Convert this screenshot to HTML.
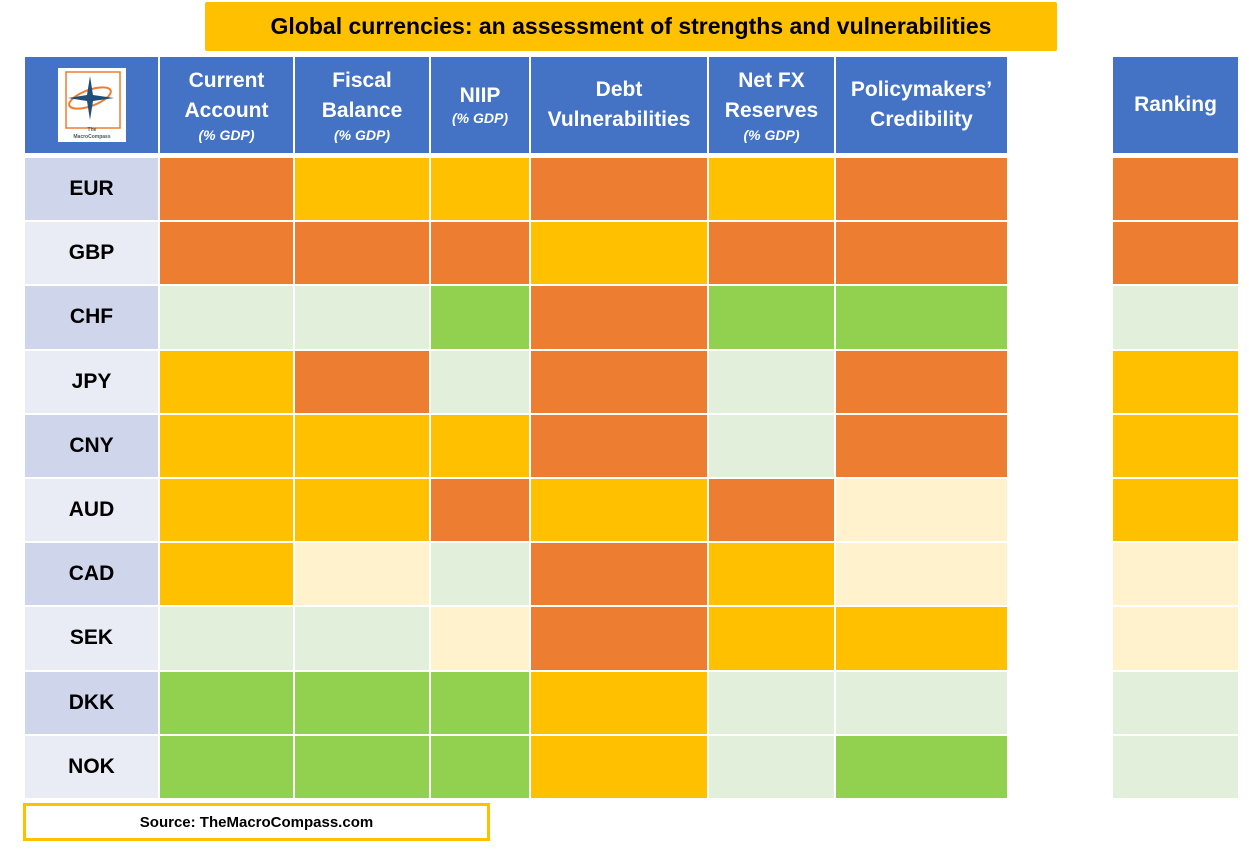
<!DOCTYPE html>
<html><head><meta charset="utf-8"><style>
body{margin:0;width:1249px;height:850px;background:#fff;position:relative;overflow:hidden;font-family:"Liberation Sans",sans-serif}
.a{position:absolute;box-sizing:border-box}
.h{background:#4472C4;color:#fff;font-weight:bold;font-size:21px;display:flex;flex-direction:column;align-items:center;justify-content:center;text-align:center;line-height:30px}
.h i{font-size:14px;line-height:18px}
.lab{display:flex;align-items:center;justify-content:center;font-weight:bold;font-size:21px;color:#000}
</style></head><body>
<div class="a" style="left:205px;top:2px;width:852px;height:49px;background:#FFC000;border-radius:2px;display:flex;align-items:center;justify-content:center;font-weight:bold;font-size:23px">Global currencies: an assessment of strengths and vulnerabilities</div>
<div class="a h" style="left:25px;top:57px;width:133px;height:96px">
<div style="width:68px;height:74px;background:#fff;position:relative">
<svg width="68" height="74" viewBox="0 0 68 74"><rect x="8" y="4" width="54" height="56" fill="none" stroke="#ED7D31" stroke-width="1.5"/><ellipse cx="32" cy="30" rx="22" ry="8" fill="none" stroke="#ED7D31" stroke-width="2" transform="rotate(-20 32 30)"/><polygon points="32,8 35,27 56,30 35,33 32,52 29,33 10,30 29,27" fill="#1F4E79"/><text x="34" y="63" font-size="5" fill="#555" text-anchor="middle">The</text><text x="34" y="70" font-size="5" fill="#555" text-anchor="middle">MacroCompass</text></svg></div></div>
<div id="t"></div>
<div class="a" style="left:23px;top:803px;width:467px;height:38px;border:3px solid #FFC000;display:flex;align-items:center;justify-content:center;font-weight:bold;font-size:15px">Source: TheMacroCompass.com</div>
<script>
const columns=["Current Account|(% GDP)","Fiscal Balance|(% GDP)","NIIP|(% GDP)","Debt Vulnerabilities|","Net FX Reserves|(% GDP)","Policymakers’ Credibility|","Ranking|"];
const currencies=["EUR","GBP","CHF","JPY","CNY","AUD","CAD","SEK","DKK","NOK"];
const scores=[
"OYYOYOO","OOOYOOO","LLGOGGL","YOLOLOY","YYYOLOY",
"YYOYOCY","YCLOYCC","LLCOYYC","GGGYLLL","GGGYLGL"];
const palette={O:"#ED7D31",Y:"#FFC000",G:"#92D050",L:"#E2EFDA",C:"#FFF2CC"};
const colX=[160,295,431,531,709,836,1113], colR=[293,429,529,707,834,1007,1238];
const headTitles=[["Current","Account"],["Fiscal","Balance"],["NIIP"],["Debt","Vulnerabilities"],["Net FX","Reserves"],["Policymakers’","Credibility"],["Ranking"]];
const t=document.getElementById('t');
function rowY(i){return 158+i*64.2;}
columns.forEach((c,j)=>{
 const d=document.createElement('div');d.className='a h';
 
 
 d.style.cssText=`left:${colX[j]}px;top:57px;width:${colR[j]-colX[j]}px;height:96px`;
 const sub=c.split('|')[1];
 d.innerHTML=headTitles[j].map(s=>`<span>${s}</span>`).join('')+(sub?`<i>${sub}</i>`:'');
 if(j===2)d.style.lineHeight='26px';
 t.appendChild(d);
});
currencies.forEach((cur,i)=>{
 const y=rowY(i),h=rowY(i+1)-y-2;
 const l=document.createElement('div');l.className='a lab';
 
 
 l.style.cssText=`left:25px;top:${y}px;width:133px;height:${h}px;background:${i%2?'#E9EBF5':'#CFD5EA'}`;
 l.textContent=cur;t.appendChild(l);
 scores[i].split('').forEach((s,j)=>{
  const c=document.createElement('div');c.className='a';
  
  
  c.style.cssText=`left:${colX[j]}px;top:${y}px;width:${colR[j]-colX[j]}px;height:${h}px;background:${palette[s]}`;
  t.appendChild(c);
 });
});
</script>
</body></html>
